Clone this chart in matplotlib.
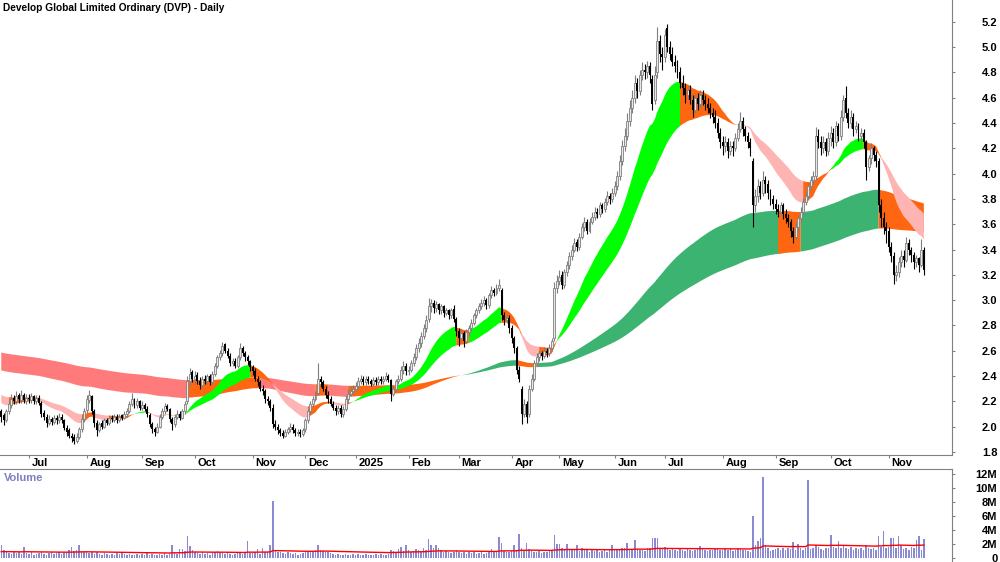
import numpy as np
import pandas as pd
import matplotlib
matplotlib.use("Agg")
import matplotlib.pyplot as plt
from matplotlib.transforms import ScaledTranslation

plt.rcParams["font.family"] = ["Liberation Sans", "DejaVu Sans"]

# Daily OHLC (A$) and volume (millions), one line per month: Jun 2024 .. Nov 2025
open_ = [
    2.12, 2.09, 2.05, 2.12, 2.17, 2.23, 2.20, 2.25, 2.21, 2.25, 2.20,
    2.23, 2.21, 2.24, 2.20, 2.23, 2.19, 2.11, 2.08, 2.03, 2.06, 2.04, 2.07, 2.05, 2.08, 2.05, 1.99, 1.97, 1.93, 1.92, 1.89, 1.92, 1.98, 2.06,
    2.13, 2.21, 2.24, 2.12, 2.03, 1.97, 2.03, 2.00, 2.05, 2.03, 2.07, 2.05, 2.08, 2.05, 2.09, 2.07, 2.10, 2.12, 2.18, 2.22, 2.17, 2.20,
    2.15, 2.17, 2.14, 2.09, 2.02, 1.98, 1.96, 2.00, 2.08, 2.12, 2.16, 2.14, 2.06, 2.02, 2.08, 2.10, 2.07, 2.12, 2.20, 2.36, 2.43,
    2.38, 2.41, 2.36, 2.33, 2.38, 2.36, 2.40, 2.35, 2.42, 2.48, 2.55, 2.58, 2.65, 2.60, 2.56, 2.50, 2.52, 2.48, 2.55, 2.62, 2.58, 2.55, 2.52,
    2.47, 2.44, 2.38, 2.35, 2.30, 2.28, 2.22, 2.20, 2.15, 2.02, 2.00, 1.97, 1.95, 1.93, 1.96, 1.98, 2.00, 1.97, 1.95, 1.96, 1.94,
    1.98, 2.05, 2.12, 2.18, 2.22, 2.27, 2.38, 2.35, 2.30, 2.25, 2.22, 2.18, 2.15, 2.12, 2.15, 2.10, 2.14, 2.22, 2.26, 2.28,
    2.30, 2.32, 2.36, 2.38, 2.35, 2.38, 2.36, 2.34, 2.37, 2.35, 2.38, 2.36, 2.38, 2.40, 2.37, 2.26, 2.30, 2.36, 2.38, 2.45, 2.48,
    2.44, 2.45, 2.50, 2.55, 2.62, 2.66, 2.72, 2.78, 2.85, 2.95, 2.98, 2.94, 2.97, 2.92, 2.95, 2.90, 2.92, 2.88, 2.93, 2.85,
    2.76, 2.70, 2.74, 2.68, 2.75, 2.78, 2.82, 2.88, 2.92, 2.95, 2.98, 3.00, 2.96, 3.04, 3.08, 3.06, 3.10, 3.08, 2.88, 2.84, 2.86,
    2.78, 2.70, 2.62, 2.45, 2.30, 2.10, 2.18, 2.10, 2.30, 2.38, 2.50, 2.55, 2.58, 2.56, 2.60, 2.58, 2.62, 2.70, 3.10,
    3.15, 3.20, 3.12, 3.22, 3.28, 3.35, 3.40, 3.46, 3.42, 3.50, 3.58, 3.62, 3.55, 3.62, 3.66, 3.70, 3.68, 3.75, 3.72, 3.78, 3.82, 3.80,
    3.85, 3.90, 3.98, 4.10, 4.22, 4.30, 4.42, 4.52, 4.60, 4.72, 4.65, 4.78, 4.82, 4.80, 4.85, 4.75, 4.58, 4.80, 5.05, 4.95,
    4.92, 5.15, 5.00, 4.95, 4.88, 4.85, 4.80, 4.72, 4.68, 4.62, 4.66, 4.58, 4.50, 4.60, 4.55, 4.62, 4.58, 4.55, 4.52, 4.48, 4.45, 4.40, 4.32,
    4.25, 4.22, 4.25, 4.18, 4.22, 4.20, 4.28, 4.35, 4.42, 4.35, 4.30, 4.25, 4.10, 3.75, 3.82, 3.90, 3.85, 3.95, 3.92, 3.85, 3.80,
    3.76, 3.72, 3.70, 3.75, 3.68, 3.65, 3.62, 3.55, 3.50, 3.58, 3.65, 3.70, 3.78, 3.82, 3.90, 3.95, 3.98, 4.30, 4.25, 4.20, 4.25, 4.18,
    4.28, 4.32, 4.25, 4.38, 4.30, 4.45, 4.60, 4.48, 4.40, 4.45, 4.35, 4.38, 4.30, 4.32, 4.25, 4.05, 4.12, 4.20, 4.15, 4.10, 3.75, 3.65, 3.58,
    3.55, 3.42, 3.35, 3.20, 3.22, 3.30, 3.35, 3.32, 3.45, 3.40, 3.36, 3.30, 3.33, 3.28, 3.40,
]
high = [
    2.14, 2.11, 2.14, 2.20, 2.26, 2.25, 2.28, 2.27, 2.29, 2.27, 2.26,
    2.26, 2.27, 2.25, 2.25, 2.25, 2.20, 2.13, 2.10, 2.09, 2.08, 2.09, 2.09, 2.11, 2.10, 2.06, 2.01, 1.99, 1.95, 1.94, 1.95, 2.00, 2.08, 2.15,
    2.25, 2.29, 2.25, 2.14, 2.05, 2.04, 2.05, 2.07, 2.07, 2.09, 2.09, 2.10, 2.10, 2.10, 2.10, 2.12, 2.15, 2.20, 2.27, 2.23, 2.23, 2.21,
    2.20, 2.19, 2.16, 2.11, 2.04, 2.00, 2.03, 2.10, 2.15, 2.19, 2.18, 2.15, 2.08, 2.10, 2.13, 2.12, 2.14, 2.20, 2.40, 2.46, 2.45,
    2.44, 2.43, 2.39, 2.40, 2.41, 2.42, 2.42, 2.44, 2.50, 2.57, 2.61, 2.67, 2.66, 2.62, 2.58, 2.54, 2.54, 2.57, 2.66, 2.64, 2.60, 2.57, 2.53,
    2.49, 2.46, 2.40, 2.37, 2.33, 2.30, 2.24, 2.22, 2.18, 2.05, 2.02, 1.99, 1.97, 1.98, 2.00, 2.03, 2.02, 1.99, 1.98, 1.98, 1.99,
    2.07, 2.14, 2.20, 2.24, 2.28, 2.50, 2.40, 2.37, 2.32, 2.28, 2.24, 2.20, 2.17, 2.17, 2.17, 2.16, 2.25, 2.30, 2.32, 2.33,
    2.35, 2.39, 2.41, 2.40, 2.40, 2.40, 2.38, 2.39, 2.39, 2.40, 2.40, 2.40, 2.43, 2.42, 2.38, 2.33, 2.38, 2.41, 2.48, 2.52, 2.50,
    2.48, 2.53, 2.58, 2.65, 2.70, 2.75, 2.81, 2.88, 3.02, 3.01, 3.00, 2.99, 2.98, 2.97, 2.96, 2.94, 2.93, 2.94, 2.96, 2.87,
    2.78, 2.77, 2.76, 2.77, 2.80, 2.85, 2.90, 2.94, 2.98, 3.01, 3.03, 3.02, 3.06, 3.11, 3.10, 3.13, 3.17, 3.10, 2.91, 2.89, 2.88,
    2.80, 2.72, 2.64, 2.48, 2.32, 2.22, 2.20, 2.33, 2.42, 2.53, 2.58, 2.61, 2.60, 2.63, 2.62, 2.65, 2.70, 3.14, 3.20,
    3.24, 3.23, 3.25, 3.31, 3.38, 3.44, 3.49, 3.48, 3.53, 3.61, 3.66, 3.64, 3.65, 3.70, 3.74, 3.73, 3.78, 3.77, 3.81, 3.86, 3.85, 3.89,
    3.94, 4.02, 4.15, 4.27, 4.36, 4.48, 4.58, 4.66, 4.78, 4.76, 4.82, 4.88, 4.87, 4.89, 4.88, 4.78, 4.85, 5.16, 5.10, 5.00,
    5.14, 5.18, 5.05, 5.00, 4.94, 4.90, 4.84, 4.78, 4.72, 4.70, 4.70, 4.62, 4.64, 4.64, 4.66, 4.66, 4.62, 4.60, 4.56, 4.52, 4.50, 4.44, 4.36,
    4.30, 4.30, 4.28, 4.26, 4.26, 4.32, 4.40, 4.49, 4.45, 4.38, 4.33, 4.28, 4.12, 3.88, 3.96, 3.94, 4.02, 3.98, 3.95, 3.88, 3.83,
    3.80, 3.76, 3.78, 3.77, 3.72, 3.68, 3.64, 3.58, 3.62, 3.68, 3.74, 3.81, 3.86, 3.93, 3.98, 4.02, 4.37, 4.35, 4.30, 4.30, 4.28, 4.33,
    4.38, 4.36, 4.42, 4.40, 4.50, 4.62, 4.69, 4.52, 4.50, 4.48, 4.42, 4.40, 4.36, 4.35, 4.27, 4.15, 4.24, 4.22, 4.18, 4.12, 3.80, 3.70, 3.62,
    3.58, 3.46, 3.38, 3.28, 3.34, 3.40, 3.40, 3.50, 3.48, 3.42, 3.38, 3.36, 3.34, 3.48, 3.42,
]
low = [
    2.04, 2.01, 2.04, 2.10, 2.15, 2.18, 2.18, 2.19, 2.19, 2.19, 2.18,
    2.19, 2.19, 2.18, 2.18, 2.17, 2.08, 2.05, 2.00, 2.01, 2.01, 2.02, 2.02, 2.03, 2.03, 1.97, 1.93, 1.91, 1.88, 1.86, 1.87, 1.90, 1.96, 2.04,
    2.11, 2.19, 2.10, 2.00, 1.93, 1.96, 1.98, 1.99, 2.01, 2.01, 2.04, 2.04, 2.03, 2.04, 2.05, 2.06, 2.08, 2.11, 2.16, 2.15, 2.15, 2.13,
    2.13, 2.12, 2.08, 2.00, 1.95, 1.93, 1.95, 1.99, 2.06, 2.10, 2.12, 2.04, 1.97, 2.00, 2.06, 2.05, 2.06, 2.10, 2.18, 2.33, 2.35,
    2.34, 2.34, 2.30, 2.31, 2.34, 2.34, 2.33, 2.34, 2.40, 2.46, 2.53, 2.56, 2.58, 2.54, 2.48, 2.48, 2.46, 2.46, 2.53, 2.56, 2.52, 2.49, 2.44,
    2.41, 2.36, 2.32, 2.28, 2.25, 2.19, 2.17, 2.12, 1.99, 1.97, 1.94, 1.93, 1.91, 1.92, 1.94, 1.96, 1.95, 1.93, 1.93, 1.92, 1.93,
    1.96, 2.03, 2.10, 2.16, 2.20, 2.25, 2.31, 2.28, 2.23, 2.19, 2.16, 2.13, 2.09, 2.10, 2.08, 2.08, 2.12, 2.19, 2.24, 2.26,
    2.28, 2.30, 2.34, 2.33, 2.33, 2.34, 2.32, 2.32, 2.33, 2.33, 2.34, 2.34, 2.36, 2.35, 2.20, 2.24, 2.28, 2.34, 2.36, 2.42, 2.41,
    2.41, 2.43, 2.48, 2.53, 2.59, 2.63, 2.69, 2.75, 2.83, 2.91, 2.90, 2.91, 2.89, 2.89, 2.87, 2.88, 2.85, 2.86, 2.83, 2.72,
    2.64, 2.68, 2.63, 2.66, 2.72, 2.76, 2.80, 2.86, 2.90, 2.93, 2.95, 2.93, 2.94, 3.02, 3.03, 3.04, 3.07, 2.84, 2.80, 2.82, 2.74,
    2.66, 2.58, 2.42, 2.35, 2.02, 2.08, 2.03, 2.08, 2.28, 2.36, 2.48, 2.52, 2.53, 2.54, 2.55, 2.56, 2.60, 2.68, 3.06,
    3.12, 3.09, 3.10, 3.19, 3.25, 3.32, 3.38, 3.39, 3.40, 3.48, 3.55, 3.52, 3.53, 3.60, 3.63, 3.65, 3.66, 3.69, 3.70, 3.75, 3.76, 3.78,
    3.82, 3.87, 3.95, 4.07, 4.18, 4.27, 4.38, 4.48, 4.56, 4.60, 4.62, 4.74, 4.75, 4.76, 4.72, 4.50, 4.55, 4.76, 4.88, 4.82,
    4.88, 4.96, 4.90, 4.85, 4.80, 4.76, 4.68, 4.62, 4.56, 4.58, 4.55, 4.45, 4.48, 4.50, 4.52, 4.54, 4.50, 4.48, 4.44, 4.40, 4.36, 4.28, 4.20,
    4.15, 4.17, 4.12, 4.15, 4.14, 4.18, 4.26, 4.33, 4.30, 4.26, 4.20, 4.14, 3.58, 3.70, 3.78, 3.80, 3.82, 3.85, 3.80, 3.75, 3.72,
    3.68, 3.66, 3.67, 3.64, 3.61, 3.58, 3.50, 3.45, 3.48, 3.55, 3.62, 3.68, 3.75, 3.79, 3.87, 3.92, 3.95, 4.20, 4.15, 4.16, 4.14, 4.15,
    4.22, 4.20, 4.22, 4.26, 4.27, 4.42, 4.44, 4.36, 4.36, 4.30, 4.32, 4.26, 4.26, 4.20, 3.95, 4.02, 4.08, 4.10, 4.05, 3.70, 3.58, 3.52, 3.45,
    3.38, 3.30, 3.13, 3.15, 3.18, 3.26, 3.26, 3.30, 3.36, 3.30, 3.25, 3.26, 3.22, 3.26, 3.20,
]
close = [
    2.08, 2.05, 2.12, 2.18, 2.22, 2.20, 2.24, 2.22, 2.25, 2.21, 2.23,
    2.22, 2.24, 2.20, 2.23, 2.19, 2.10, 2.08, 2.03, 2.06, 2.04, 2.07, 2.05, 2.08, 2.05, 1.99, 1.96, 1.93, 1.91, 1.89, 1.92, 1.98, 2.06, 2.12,
    2.22, 2.25, 2.12, 2.03, 1.97, 2.02, 2.00, 2.05, 2.03, 2.07, 2.06, 2.08, 2.05, 2.08, 2.07, 2.10, 2.12, 2.18, 2.22, 2.17, 2.20, 2.15,
    2.17, 2.14, 2.10, 2.02, 1.98, 1.96, 2.00, 2.08, 2.12, 2.16, 2.14, 2.06, 2.02, 2.08, 2.10, 2.07, 2.12, 2.18, 2.36, 2.42, 2.38,
    2.40, 2.36, 2.33, 2.38, 2.36, 2.40, 2.35, 2.42, 2.48, 2.55, 2.58, 2.64, 2.60, 2.56, 2.50, 2.52, 2.48, 2.55, 2.62, 2.58, 2.55, 2.52, 2.47,
    2.44, 2.38, 2.35, 2.30, 2.28, 2.22, 2.20, 2.15, 2.02, 2.00, 1.97, 1.95, 1.93, 1.96, 1.98, 2.00, 1.97, 1.95, 1.96, 1.94, 1.97,
    2.05, 2.12, 2.18, 2.22, 2.25, 2.38, 2.35, 2.30, 2.25, 2.22, 2.18, 2.15, 2.12, 2.15, 2.10, 2.14, 2.22, 2.26, 2.28, 2.30,
    2.32, 2.36, 2.38, 2.35, 2.38, 2.36, 2.34, 2.37, 2.35, 2.38, 2.36, 2.38, 2.40, 2.37, 2.26, 2.30, 2.36, 2.38, 2.45, 2.48, 2.44,
    2.45, 2.50, 2.55, 2.62, 2.66, 2.72, 2.78, 2.84, 2.95, 2.98, 2.94, 2.97, 2.92, 2.95, 2.90, 2.92, 2.88, 2.92, 2.85, 2.76,
    2.70, 2.74, 2.68, 2.75, 2.78, 2.82, 2.88, 2.92, 2.95, 2.98, 3.00, 2.96, 3.04, 3.08, 3.06, 3.10, 3.12, 2.88, 2.84, 2.86, 2.78,
    2.70, 2.62, 2.45, 2.38, 2.10, 2.18, 2.08, 2.30, 2.38, 2.50, 2.55, 2.58, 2.56, 2.60, 2.58, 2.62, 2.68, 3.10, 3.15,
    3.18, 3.12, 3.22, 3.28, 3.35, 3.40, 3.45, 3.42, 3.50, 3.58, 3.62, 3.55, 3.62, 3.66, 3.70, 3.68, 3.75, 3.72, 3.78, 3.82, 3.80, 3.85,
    3.90, 3.98, 4.10, 4.22, 4.30, 4.42, 4.52, 4.60, 4.72, 4.65, 4.78, 4.82, 4.80, 4.85, 4.78, 4.55, 4.78, 5.05, 4.95, 4.92,
    5.10, 5.00, 4.95, 4.88, 4.85, 4.80, 4.72, 4.68, 4.62, 4.66, 4.58, 4.50, 4.60, 4.55, 4.62, 4.58, 4.55, 4.52, 4.48, 4.45, 4.40, 4.32, 4.25,
    4.22, 4.25, 4.18, 4.22, 4.20, 4.28, 4.35, 4.42, 4.35, 4.30, 4.25, 4.20, 3.75, 3.82, 3.90, 3.85, 3.95, 3.92, 3.85, 3.80, 3.76,
    3.72, 3.70, 3.75, 3.68, 3.65, 3.62, 3.55, 3.50, 3.58, 3.65, 3.70, 3.78, 3.82, 3.90, 3.95, 3.98, 4.30, 4.25, 4.20, 4.25, 4.18, 4.28,
    4.32, 4.25, 4.38, 4.30, 4.45, 4.58, 4.48, 4.40, 4.45, 4.35, 4.38, 4.30, 4.32, 4.25, 4.05, 4.12, 4.20, 4.15, 4.10, 3.75, 3.65, 3.58, 3.55,
    3.42, 3.35, 3.20, 3.22, 3.30, 3.35, 3.32, 3.45, 3.40, 3.36, 3.30, 3.33, 3.28, 3.40, 3.24,
]
volume_m = [
    1.9, 1.1, 0.8, 0.7, 0.6, 0.9, 0.7, 0.8, 0.6, 1.6, 0.7,
    0.6, 0.8, 0.5, 0.6, 0.7, 0.9, 0.6, 0.5, 0.7, 0.8, 0.6, 0.7, 0.9, 0.6, 0.7, 0.9, 1.2, 1.6, 1.0, 1.1, 1.8, 1.0, 0.8,
    0.9, 0.7, 0.8, 0.6, 0.8, 0.6, 0.5, 0.7, 0.6, 0.5, 0.6, 0.5, 0.7, 0.6, 0.9, 0.6, 0.5, 0.6, 0.5, 0.4, 0.6, 0.5,
    0.6, 0.5, 0.7, 0.4, 0.6, 0.5, 0.4, 0.6, 0.5, 0.7, 0.5, 0.6, 1.8, 0.7, 0.6, 1.3, 1.3, 1.0, 3.1, 1.7, 1.2,
    0.9, 0.7, 0.6, 0.8, 0.6, 0.7, 0.5, 0.8, 0.9, 1.0, 0.8, 0.7, 0.6, 0.7, 0.6, 0.5, 0.6, 0.8, 0.7, 0.6, 0.9, 2.4, 0.7,
    0.7, 0.8, 1.3, 0.6, 1.4, 0.9, 0.8, 1.8, 8.1, 1.2, 0.9, 0.8, 0.7, 0.6, 0.8, 0.7, 0.6, 0.7, 0.5, 0.6, 0.7,
    0.8, 0.9, 1.0, 0.8, 1.2, 1.9, 1.1, 1.0, 0.8, 0.9, 0.7, 0.6, 0.5, 0.6, 0.4, 0.5, 0.6, 0.5, 0.4, 0.6,
    0.5, 0.6, 0.4, 0.5, 0.6, 0.5, 0.4, 0.5, 0.6, 0.5, 0.6, 0.4, 0.5, 0.6, 1.1, 1.0, 0.9, 1.3, 1.6, 1.0, 1.9,
    1.2, 0.9, 1.0, 1.3, 1.1, 1.0, 1.4, 1.2, 2.7, 1.9, 1.4, 1.8, 1.5, 1.1, 0.9, 1.0, 0.8, 0.7, 0.9, 1.1,
    0.8, 0.7, 0.9, 0.6, 0.8, 0.7, 0.9, 0.6, 0.7, 0.8, 0.6, 0.7, 0.9, 1.3, 0.8, 1.0, 3.0, 2.1, 1.0, 0.9, 0.8,
    1.0, 1.8, 1.2, 3.4, 1.4, 1.1, 2.1, 1.3, 1.0, 0.9, 0.8, 1.0, 0.7, 0.8, 0.9, 1.0, 1.2, 3.3, 2.0,
    2.0, 1.5, 1.2, 2.0, 1.3, 1.1, 1.2, 1.8, 1.0, 1.4, 1.2, 1.1, 0.9, 1.2, 1.0, 1.1, 0.8, 1.0, 1.2, 0.9, 1.1, 1.8,
    1.3, 1.1, 1.2, 1.4, 1.5, 2.1, 1.3, 1.2, 2.6, 1.3, 1.1, 1.2, 1.0, 1.4, 1.5, 2.9, 2.8, 2.8, 1.3, 1.4,
    1.6, 1.4, 1.2, 1.3, 1.1, 1.0, 1.5, 1.2, 1.0, 1.3, 1.1, 1.0, 1.2, 1.4, 1.7, 1.3, 1.1, 1.0, 1.2, 1.1, 1.3, 1.5, 1.2,
    1.1, 1.3, 1.2, 1.4, 1.0, 1.2, 1.5, 1.3, 1.1, 1.2, 1.0, 0.9, 6.0, 1.9, 2.4, 2.9, 11.6, 1.8, 1.4, 1.0, 1.2,
    1.3, 1.5, 1.2, 1.4, 1.1, 1.5, 1.3, 2.3, 1.2, 2.0, 1.4, 1.2, 1.5, 11.2, 1.3, 1.4, 1.8, 1.6, 1.3, 1.2, 1.5, 1.4,
    3.3, 1.6, 1.4, 2.5, 1.5, 1.8, 1.4, 1.3, 1.6, 1.2, 1.5, 1.3, 1.4, 1.2, 1.8, 1.5, 1.3, 1.4, 1.2, 3.2, 1.6, 3.8, 1.5,
    1.6, 2.8, 2.9, 1.4, 3.1, 1.8, 1.3, 1.5, 1.2, 1.6, 1.4, 2.6, 3.1, 1.2, 2.7,
]

# ASX non-trading days inside the window
holidays = ["2024-12-25", "2024-12-26", "2025-01-01", "2025-01-27",
            "2025-04-18", "2025-04-21", "2025-04-25", "2025-06-09"]

# moving-average spans and their levels at the left edge of the chart
ema_start = {20: 2.20, 40: 2.26, 150: 2.45, 250: 2.59}
vol_avg_start = 0.88

days = pd.bdate_range("2024-06-14", "2025-11-21")
days = days[~days.isin(pd.to_datetime(holidays))]
df = pd.DataFrame({"open": open_, "high": high, "low": low,
                   "close": close, "volume": volume_m}, index=days)
n = len(df)
x = np.arange(n)


def ema(values, span, start):
    a = 2.0 / (span + 1)
    out = []
    prev = start
    for v in values:
        prev += a * (v - prev)
        out.append(prev)
    return np.array(out)


def band(ax, fast, slow, price, up_col, down_col, mid_col, z):
    up = (fast > slow) & (price >= fast)
    down = (fast < slow) & (price <= fast)
    mid = ~(up | down)
    lo = np.minimum(fast, slow)
    hi = np.maximum(fast, slow)
    for mask, col in ((up, up_col), (down, down_col), (mid, mid_col)):
        m = mask.copy()
        m[1:] |= mask[:-1]
        ax.fill_between(x, lo, hi, where=m, color=col, linewidth=0, zorder=z)


c = df["close"].values
o = df["open"].values
h = df["high"].values
l = df["low"].values

fig = plt.figure(figsize=(10, 5.62), dpi=100)
ax = fig.add_axes([0, 1 - 455 / 562, 0.952, 455 / 562])
axv = fig.add_axes([0, 0, 0.952, 93 / 562])

# trend bands
band(ax, ema(c, 150, ema_start[150]), ema(c, 250, ema_start[250]), c,
     "#3CB371", "#FF7B7B", "#FF6611", 1)
band(ax, ema(c, 20, ema_start[20]), ema(c, 40, ema_start[40]), c,
     "#00FF00", "#FFB4B4", "#FF6611", 2)

# candles
up = c >= o
body = np.maximum(np.abs(c - o), 0.008)
ax.vlines(x[up], l[up], h[up], color="#7F7F7F", lw=0.8, zorder=3)
ax.vlines(x[~up], l[~up], h[~up], color="black", lw=0.8, zorder=3)
ax.bar(x[up], body[up], bottom=o[up], width=0.78, facecolor="#E8E8E8",
       edgecolor="#7F7F7F", linewidth=0.6, zorder=4)
ax.bar(x[~up], body[~up], bottom=c[~up], width=0.78, color="black",
       linewidth=0, zorder=4)

ax.set_xlim(-0.5, 378.2)
ax.set_ylim(1.776, 5.373)
ax.yaxis.tick_right()
yt = np.arange(1.8, 5.21, 0.2)
ax.set_yticks(yt)
ax.set_yticklabels([f"{v:.1f}" for v in yt], fontsize=8, fontweight="bold")
ax.tick_params(axis="y", length=2, pad=30.6, colors="#808080", labelcolor="black")
for t in ax.get_yticklabels():
    t.set_ha("right")

month_start = [i for i in range(1, n) if days[i].month != days[i - 1].month]
month_lbl = ["2025" if days[i].month == 1 else days[i].strftime("%b") for i in month_start]
ax.set_xticks(month_start)
ax.set_xticklabels(month_lbl, fontsize=8, fontweight="bold", ha="left")
ax.tick_params(axis="x", length=2, pad=0.3, colors="#808080", labelcolor="black")
shift = ScaledTranslation(2 / 72, 0, fig.dpi_scale_trans)
for t in ax.get_xticklabels():
    t.set_transform(t.get_transform() + shift)

for s in ["top", "left"]:
    ax.spines[s].set_visible(False)
for s in ["right", "bottom"]:
    ax.spines[s].set_color("#808080")

fig.text(0.003, 1 - 8 / 562, "Develop Global Limited Ordinary (DVP) - Daily",
         ha="left", va="center", fontsize=7.3, fontweight="bold")

# volume panel
axv.bar(x, df["volume"].values, width=0.6, color="#8A8AD2", linewidth=0)
axv.plot(x, ema(df["volume"].values, 80, vol_avg_start), color="#FF0000", lw=1)
axv.set_xlim(-0.5, 378.2)
axv.set_ylim(-0.57, 12.71)
axv.yaxis.tick_right()
vt = np.arange(0, 13, 2)
axv.set_yticks(vt)
axv.set_yticklabels(["0"] + [f"{v}M" for v in vt[1:]], fontsize=8, fontweight="bold")
axv.tick_params(axis="y", length=2, pad=30.6, colors="#808080", labelcolor="black")
for t in axv.get_yticklabels():
    t.set_ha("right")
axv.set_xticks([])
for s in ["bottom", "left"]:
    axv.spines[s].set_visible(False)
for s in ["top", "right"]:
    axv.spines[s].set_color("#808080")
axv.text(0.004, 0.9, "Volume", transform=axv.transAxes, ha="left", va="center",
         fontsize=8, fontweight="bold", color="#7F7FBF")

fig.savefig("out.png", dpi=100)
